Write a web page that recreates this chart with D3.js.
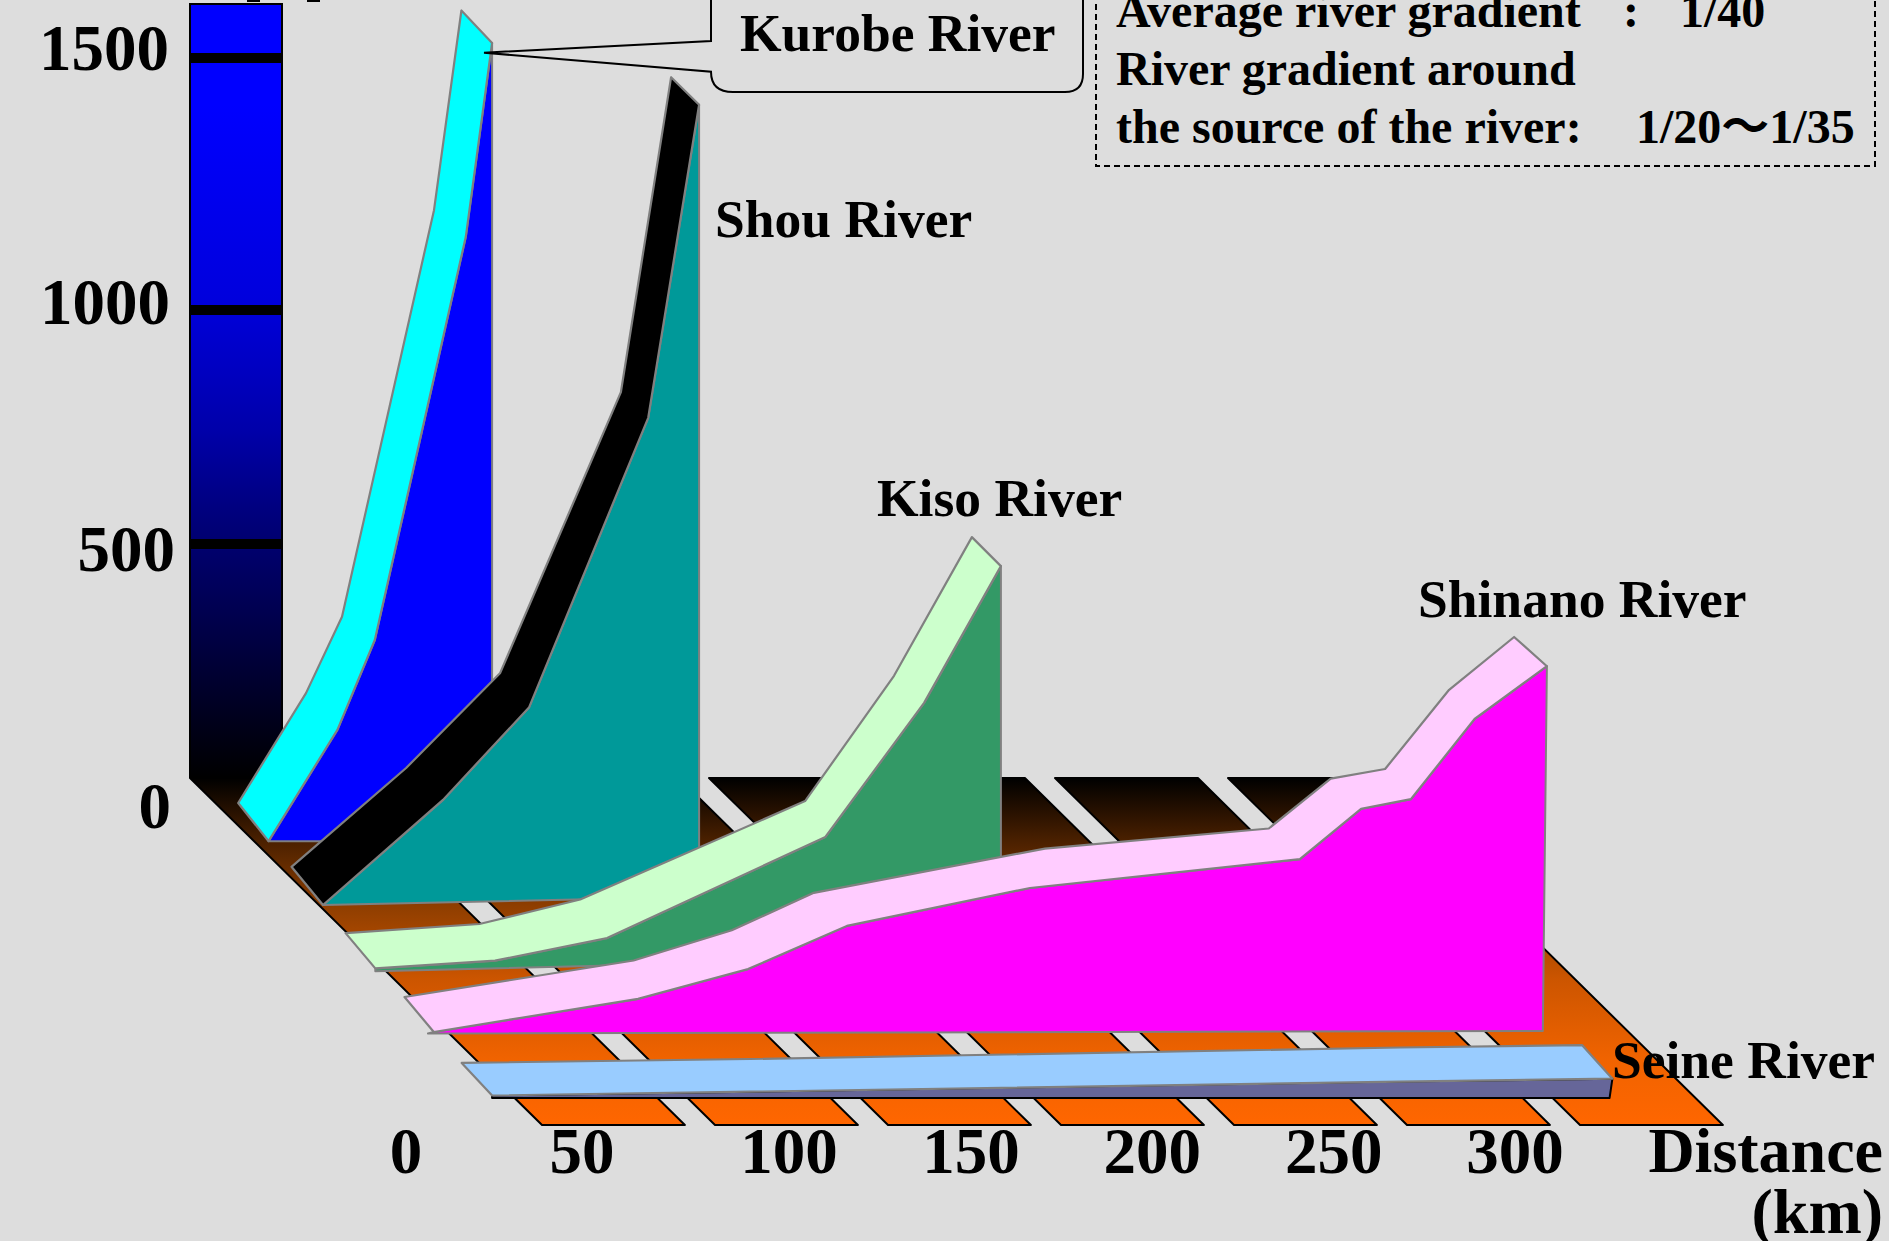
<!DOCTYPE html>
<html>
<head>
<meta charset="utf-8">
<script src="https://cdn.jsdelivr.net/npm/d3@7"></script>
<style>
  html, body { margin: 0; padding: 0; background: #dddddd; overflow: hidden; }
  text { font-family: "Liberation Serif", "Noto Sans CJK JP", serif; font-weight: bold; fill: #000; }
</style>
</head>
<body>
<svg id="chart" width="1889" height="1241"></svg>
<script>
// elevation ticks (m) and distance ticks (km)
const elevTicks = [0, 500, 1000, 1500];
const distTicks = [0, 50, 100, 150, 200, 250, 300];
const floorStrips = [0, 50, 100, 150, 200, 250, 300];

// each river: [km, m] read along the near and the far bank
const kurobeNear = [[4.2, 0], [24.1, 232], [34.9, 419], [61.2, 1259], [68.8, 1663]];
const kurobeFar = [[6.6, 0], [26.2, 229], [36.6, 388], [63.2, 1235], [71.1, 1651]];
const shouNear = [[1.2, 0], [35.9, 219], [60.8, 412], [95.2, 1015], [109.9, 1667]];
const shouFar = [[3.3, 0], [36.4, 206], [63.6, 404], [98.5, 989], [113, 1645]];
const kisoNear = [[-2.4, 1], [32.2, 17], [64.6, 64], [127.7, 275], [156.2, 554], [178.4, 839]];
const kisoFar = [[-0.5, 0], [38.2, 19], [67.3, 70], [132.3, 275], [158, 536], [180.5, 825]];
const shinanoNear = [[-4, 0], [55, 69], [86.8, 131], [115.4, 221], [168.3, 300], [246.3, 360], [264, 465], [278.4, 485], [296.8, 652], [317.7, 762]];
const shinanoFar = [[-2.2, 0], [64, 76], [92.4, 139], [116.1, 217], [182.9, 309], [247.6, 351], [265.5, 455], [281.2, 475], [299.7, 640], [318.5, 750]];
const seineNear = [[-6.5, 5], [68.1, 13], [255.9, 34], [317.3, 40]];
const seineFar = [[-5, 0], [78.3, 8], [266.2, 32], [318.8, 37]];

const rivers = [
  { name: "Kurobe River", near: kurobeNear, far: kurobeFar, nearDepth: 0.818, farDepth: 0.928, end: [68.8, 0], bank: "#00ffff", side: "#0000ff" },
  { name: "Shou River", near: shouNear, far: shouFar, nearDepth: 0.634, farDepth: 0.744, end: [109.9, 17], bank: "#000000", side: "#009999" },
  { name: "Kiso River", near: kisoNear, far: kisoFar, nearDepth: 0.45, farDepth: 0.553, end: [178.4, 27], start: [-2.4, -5], bank: "#ccffcc", side: "#339966" },
  { name: "Shinano River", near: shinanoNear, far: shinanoFar, nearDepth: 0.268, farDepth: 0.369, end: [316.5, 2], start: [-5.7, -3], bank: "#ffccff", side: "#ff00ff" },
  { name: "Seine River", near: seineNear, far: seineFar, nearDepth: 0.078, farDepth: 0.179, end: [316.5, 0], start: [-6.5, 0], bank: "#99ccff", side: "#666699", sideStroke: "#000" }
];

const svg = d3.select("#chart");
svg.append("rect").attr("width", 1889).attr("height", 1241).attr("fill", "#dddddd");

// =========================
// SCALES
// =========================
const kmX = d3.scaleLinear().domain([0, 350]).range([542, 1753]);
const depthX = d3.scaleLinear().domain([0, 1]).range([0, -352]);
const depthY = d3.scaleLinear().domain([0, 1]).range([1125, 778]);
const elevH = d3.scaleLinear().domain([0, 1500]).range([0, 720]);

// the drawn axis is not quite even, so these are piecewise
const wallY = d3.scaleLinear().domain(elevTicks).range([777, 544, 310, 58]);
const elevLabelY = d3.scaleLinear().domain(elevTicks).range([828, 571, 324, 70]);
const elevLabelX = d3.scaleLinear().domain(elevTicks).range([171, 175, 170, 169]);
const distLabelX = d3.scaleLinear().domain([0, 50, 100, 150, 300]).range([406, 582, 789, 971, 1515]);

const project = depth => ([km, m]) => [kmX(km) + depthX(depth), depthY(depth) - elevH(m)];
const polygon = pts => "M" + pts.map(p => p.map(v => v.toFixed(1)).join(",")).join("L") + "Z";

// =========================
// GRADIENTS
// =========================
const defs = svg.append("defs");
function gradient(id, y1, y2, stops) {
  const g = defs.append("linearGradient").attr("id", id)
    .attr("gradientUnits", "userSpaceOnUse")
    .attr("x1", 0).attr("x2", 0).attr("y1", y1).attr("y2", y2);
  stops.forEach(([o, c]) => g.append("stop").attr("offset", o).attr("stop-color", c));
}
gradient("wallFill", 4, 777, [[0, "#0000ff"], [0.13, "#0000ff"], [0.38, "#0000dd"], [0.55, "#0000aa"], [0.65, "#000080"], [0.83, "#000040"], [1, "#000000"]]);
gradient("floorFill", 778, 1125, [[0, "#000000"], [0.18, "#4a2000"], [0.37, "#8f3e00"], [0.58, "#cc5500"], [0.81, "#f06300"], [1, "#ff6600"]]);

// =========================
// WALL
// =========================
svg.append("rect")
  .attr("x", 190).attr("y", 4)
  .attr("width", 92).attr("height", 773)
  .attr("fill", "url(#wallFill)")
  .attr("stroke", "#000").attr("stroke-width", 2);

svg.selectAll(".wall-tick")
  .data(elevTicks.slice(1))
  .enter().append("rect")
  .attr("class", "wall-tick")
  .attr("x", 190).attr("width", 92)
  .attr("y", d => wallY(d) - 5).attr("height", 10)
  .attr("fill", "#000");

// the axis title is cut off by the top of the page, only two serifs show
svg.selectAll(".title-foot")
  .data([247, 307])
  .enter().append("rect")
  .attr("class", "title-foot")
  .attr("x", d => d).attr("y", 0)
  .attr("width", 13).attr("height", 2)
  .attr("fill", "#000");

// =========================
// FLOOR
// =========================
svg.selectAll(".strip")
  .data(floorStrips)
  .enter().append("path")
  .attr("class", "strip")
  .attr("d", d => polygon([
    [kmX(d), depthY(0)],
    [kmX(d + 41.3), depthY(0)],
    [kmX(d + 41.3) + depthX(1), depthY(1)],
    [kmX(d) + depthX(1), depthY(1)]
  ]))
  .attr("fill", "url(#floorFill)")
  .attr("stroke", "#000").attr("stroke-width", 2)
  .attr("stroke-linejoin", "round");

// =========================
// RIVERS
// =========================
const riverG = svg.selectAll(".river")
  .data(rivers)
  .enter().append("g")
  .attr("class", "river");

riverG.append("path")
  .attr("d", d => {
    const p = project(d.nearDepth);
    const pts = d.near.map(p);
    pts.push(p(d.end));
    if (d.start) pts.push(p(d.start));
    return polygon(pts);
  })
  .attr("fill", d => d.side)
  .attr("stroke", d => d.sideStroke || "#808080")
  .attr("stroke-width", 2)
  .attr("stroke-linejoin", "round");

riverG.append("path")
  .attr("d", d => polygon(d.near.map(project(d.nearDepth)).concat(d.far.map(project(d.farDepth)).reverse())))
  .attr("fill", d => d.bank)
  .attr("stroke", "#808080")
  .attr("stroke-width", 2.2)
  .attr("stroke-linejoin", "round");

// =========================
// LABELS
// =========================
svg.selectAll(".elev-label")
  .data(elevTicks)
  .enter().append("text")
  .attr("class", "elev-label")
  .attr("x", d => elevLabelX(d)).attr("y", d => elevLabelY(d))
  .attr("text-anchor", "end")
  .style("font-size", "65px")
  .text(d => d);

svg.selectAll(".dist-label")
  .data(distTicks)
  .enter().append("text")
  .attr("class", "dist-label")
  .attr("x", d => distLabelX(d)).attr("y", 1173)
  .attr("text-anchor", "middle")
  .style("font-size", "65px")
  .text(d => d);

svg.append("text").attr("x", 1883).attr("y", 1172).attr("text-anchor", "end").style("font-size", "64px").text("Distance");
svg.append("text").attr("x", 1883).attr("y", 1233).attr("text-anchor", "end").style("font-size", "64px").text("(km)");

// callout for Kurobe River, the box runs off the top of the page
svg.append("path")
  .attr("d", "M711,-10V41L484,52.7L711,71.7Q711,92 733,92H1065Q1083,92 1083,74V-10Z")
  .attr("fill", "#dddddd")
  .attr("stroke", "#000").attr("stroke-width", 2);

const riverLabels = [
  { text: "Kurobe River", x: 740, y: 51 },
  { text: "Shou River", x: 715, y: 237 },
  { text: "Kiso River", x: 877, y: 516 },
  { text: "Shinano River", x: 1418, y: 617 },
  { text: "Seine River", x: 1612, y: 1078 }
];
svg.selectAll(".river-label")
  .data(riverLabels)
  .enter().append("text")
  .attr("class", "river-label")
  .attr("x", d => d.x).attr("y", d => d.y)
  .style("font-size", "53.5px")
  .text(d => d.text);

// dashed note box
svg.append("rect")
  .attr("x", 1096).attr("y", -20)
  .attr("width", 779).attr("height", 186)
  .attr("fill", "none")
  .attr("stroke", "#000").attr("stroke-width", 2)
  .attr("stroke-dasharray", "6,4");

const noteLines = [
  { text: "Average river gradient", x: 1116, y: 27 },
  { text: ":", x: 1623, y: 27 },
  { text: "1/40", x: 1680, y: 27 },
  { text: "River gradient around", x: 1116, y: 85 },
  { text: "the source of the river:", x: 1116, y: 143 },
  { text: "1/20〜1/35", x: 1636, y: 143 }
];
svg.selectAll(".note")
  .data(noteLines)
  .enter().append("text")
  .attr("class", "note")
  .attr("x", d => d.x).attr("y", d => d.y)
  .style("font-size", "48px")
  .text(d => d.text);
</script>
</body>
</html>
